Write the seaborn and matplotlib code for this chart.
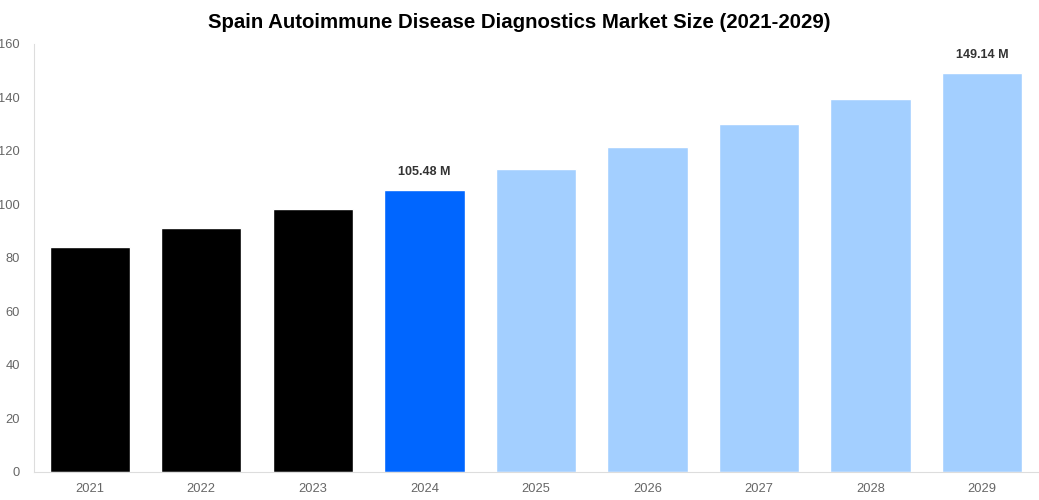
import matplotlib.pyplot as plt
import seaborn as sns
import pandas as pd

years = ['2021', '2022', '2023', '2024', '2025', '2026', '2027', '2028', '2029']
values = [84.2, 91.0, 98.1, 105.48, 113.2, 121.3, 130.0, 139.3, 149.14]
bar_colors = ['#000000', '#000000', '#000000', '#0066ff',
              '#a3cfff', '#a3cfff', '#a3cfff', '#a3cfff', '#a3cfff']
labels = {'2024': '105.48 M', '2029': '149.14 M'}

df = pd.DataFrame({'year': years, 'value': values})

sns.set_style('white')
plt.rcParams['font.family'] = ['Liberation Sans', 'DejaVu Sans']

fig = plt.figure(figsize=(10.39, 5.0), dpi=100)
ax = fig.add_axes([0.0327, 0.0566, 0.9663, 0.8554])

sns.barplot(data=df, x='year', y='value', hue='year', palette=bar_colors,
            width=0.72, legend=False, ax=ax, saturation=1)

for i, (yr, v) in enumerate(zip(years, values)):
    if yr in labels:
        ax.text(i, v + 4.5, labels[yr], ha='center', va='bottom',
                fontsize=9, fontweight='bold', color='#333333')

ax.set_xlim(-0.5, 8.5)
ax.set_ylim(0, 160)
ax.set_yticks(range(0, 161, 20))
ax.set_xlabel('')
ax.set_ylabel('')
ax.tick_params(axis='both', length=0, labelsize=9.3, colors='#666666')
ax.tick_params(axis='y', pad=10)
ax.tick_params(axis='x', pad=8)
for s in ['top', 'right']:
    ax.spines[s].set_visible(False)
for s in ['left', 'bottom']:
    ax.spines[s].set_color('#dddddd')
    ax.spines[s].set_linewidth(0.8)

fig.suptitle('Spain Autoimmune Disease Diagnostics Market Size (2021-2029)',
             x=0.5, y=0.975, fontsize=14.7, fontweight='bold', color='#000000')

fig.savefig('out.png', dpi=100)
